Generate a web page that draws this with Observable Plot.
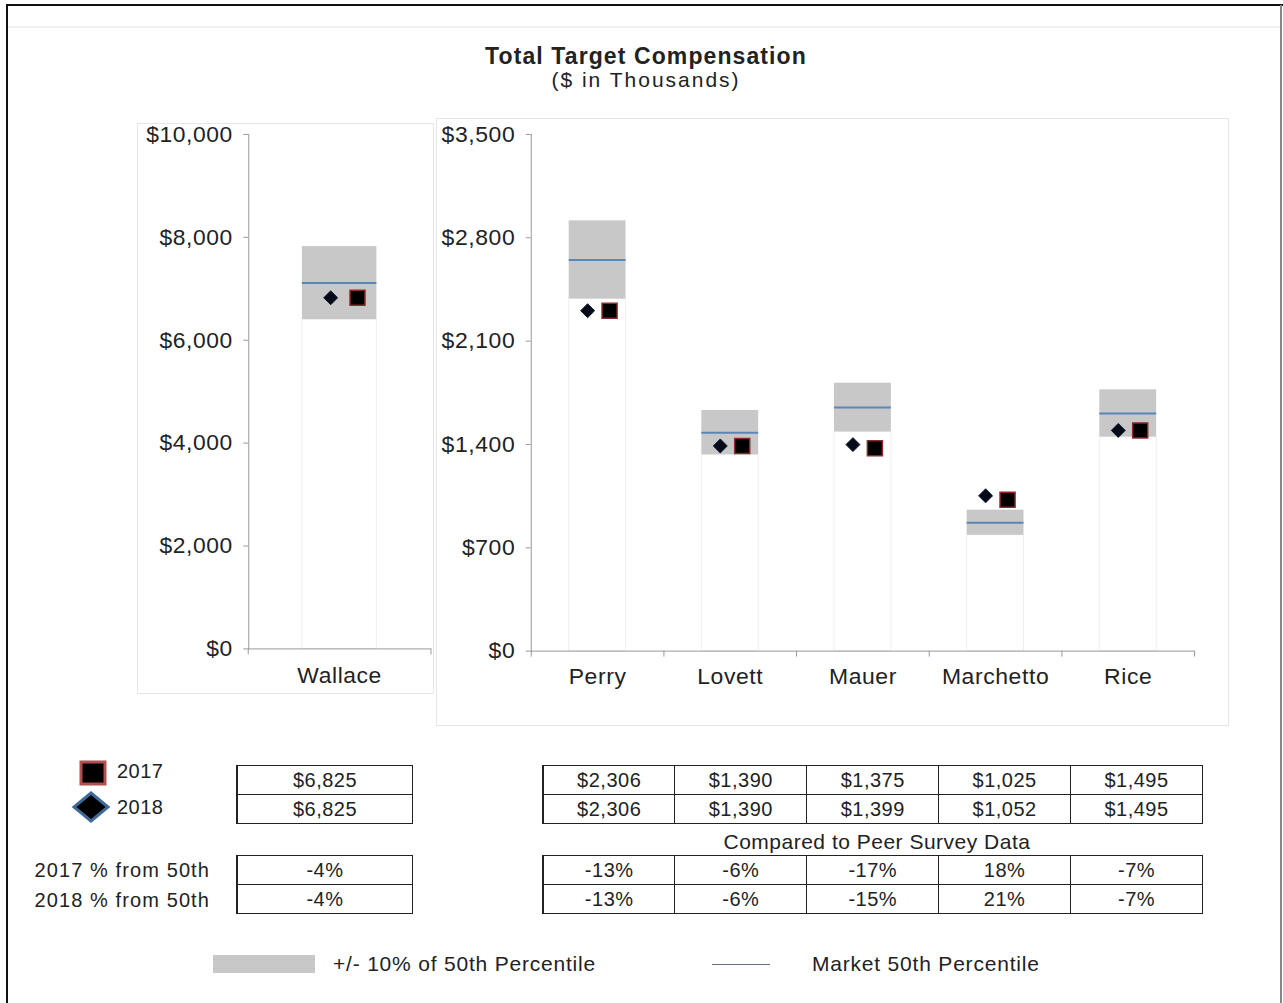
<!DOCTYPE html>
<html>
<head>
<meta charset="utf-8">
<script src="https://cdn.jsdelivr.net/npm/d3@7"></script>
<script src="https://cdn.jsdelivr.net/npm/@observablehq/plot@0.6"></script>
<style>
  html, body { margin: 0; padding: 0; background: #fff; }
  #root { position: relative; width: 1283px; height: 1003px; background: #fff; overflow: hidden;
          font-family: "Liberation Sans", Arial, sans-serif; color: #222; }
  .abs { position: absolute; white-space: nowrap; }
  .panel { position: absolute; border: 1px solid #e6e6e6; box-sizing: border-box; }
  table.vals { position: absolute; border-collapse: collapse; table-layout: fixed; font-size: 20px; letter-spacing: 0.5px; }
  table.vals td { border: 1px solid #222; text-align: center; height: 28px; padding: 0; line-height: 28px; }
  table.vals tr td:first-child { border-left: 2px solid #222; }
  .rowlab { position: absolute; font-size: 20px; letter-spacing: 1.1px; text-align: right; width: 200px; white-space: nowrap; }
</style>
</head>
<body>
<div id="root"></div>
<script>
// ---------- data ----------
const names      = ["Wallace", "Perry", "Lovett", "Mauer", "Marchetto", "Rice"];
const leftNames  = ["Wallace"];
const rightNames = ["Perry", "Lovett", "Mauer", "Marchetto", "Rice"];
const comp2017   = [6825, 2306, 1390, 1375, 1025, 1495];
const comp2018   = [6825, 2306, 1390, 1399, 1052, 1495];
const market50th = [7110, 2650, 1480, 1650, 870, 1610];
const bandLow    = [6400, 2385, 1330, 1485, 785, 1450];
const bandHigh   = [7820, 2915, 1630, 1815, 955, 1770];
const pct2017    = ["-4%", "-13%", "-6%", "-17%", "18%", "-7%"];
const pct2018    = ["-4%", "-13%", "-6%", "-15%", "21%", "-7%"];
const leftTicks  = [0, 2000, 4000, 6000, 8000, 10000];
const rightTicks = [0, 700, 1400, 2100, 2800, 3500];

const rows = names.map((n, i) => ({
  name: n, low: bandLow[i], high: bandHigh[i], mid: market50th[i],
  y17: comp2017[i], y18: comp2018[i], p17: pct2017[i], p18: pct2018[i]
}));
const fmt = d => "$" + d3.format(",")(d);

const root = document.getElementById("root");
function add(html) { root.insertAdjacentHTML("beforeend", html); }

// outer frame lines
add(`<div class="abs" style="left:7px;top:4px;width:1276px;height:2px;background:#111"></div>`);
add(`<div class="abs" style="left:6px;top:4px;width:2px;height:999px;background:#111"></div>`);
add(`<div class="abs" style="left:1280px;top:5px;width:2px;height:998px;background:#888"></div>`);
add(`<div class="abs" style="left:8px;top:26px;width:1272px;height:2px;background:#f0f0f0"></div>`);

// title
add(`<div class="abs" style="left:346px;top:44px;width:600px;text-align:center;font-weight:bold;font-size:23px;letter-spacing:1.1px;line-height:24px">Total Target Compensation</div>`);
add(`<div class="abs" style="left:346px;top:68px;width:600px;text-align:center;font-size:21px;letter-spacing:2px;line-height:24px">($ in Thousands)</div>`);

// panels
function panel({cats, ticks, domain, left, top, width, height, mL, mT, mR, mB, pIn, dxD, dxS, xPad}) {
  const data = rows.filter(r => cats.includes(r.name));
  const step = (width - mL - mR) / cats.length;
  const half = step / 2;
  const svg = Plot.plot({
    width, height,
    marginLeft: mL, marginTop: mT, marginRight: mR, marginBottom: mB,
    x: {domain: cats, paddingInner: pIn, paddingOuter: pIn / 2, label: null},
    y: {domain, label: null},
    style: {fontFamily: "'Liberation Sans', Arial, sans-serif", fontSize: "23px", letterSpacing: "0.6px", color: "#222", background: "transparent", overflow: "visible"},
    marks: [
      Plot.barY(data, {x: "name", y1: 0, y2: "low", fill: "#fff", stroke: "#efefef", strokeWidth: 1}),
      Plot.barY(data, {x: "name", y1: "low", y2: "high", fill: "#c8c8c8"}),
      Plot.tickY(data, {x: "name", y: "mid", stroke: "#5b86b8", strokeWidth: 2}),
      Plot.ruleY([0], {stroke: "#999"}),
      Plot.frame({anchor: "left", stroke: "#999"}),
      Plot.ruleX(data, {x: "name", dx: -half, y1: 0, y2: 0, insetBottom: -6, stroke: "#999"}),
      Plot.ruleX(data.slice(-1), {x: "name", dx: half, y1: 0, y2: 0, insetBottom: -6, stroke: "#999"}),
      Plot.dot(data, {x: "name", y: "y18", symbol: "diamond2", r: 6.3, fill: "#050a18", stroke: "#0b1630", strokeWidth: 1, dx: dxD}),
      Plot.dot(data, {x: "name", y: "y17", symbol: "square", r: 8.5, fill: "#000", stroke: "#8a2a2a", strokeWidth: 1.5, dx: dxS}),
      Plot.axisY({ticks, tickFormat: fmt, tickSize: 5, tickPadding: 11, stroke: "#999", fill: "#222", label: null}),
      Plot.axisX({tickSize: 0, tickPadding: xPad, fill: "#222", label: null})
    ]
  });
  const wrap = document.createElement("div");
  wrap.className = "panel";
  wrap.style.left = left + "px"; wrap.style.top = top + "px";
  wrap.style.width = width + "px"; wrap.style.height = height + "px";
  svg.style.position = "absolute"; svg.style.left = "-1px"; svg.style.top = "-1px";
  wrap.appendChild(svg);
  root.appendChild(wrap);
}

panel({cats: leftNames, ticks: leftTicks, domain: [0, 10000], left: 137, top: 123, width: 297, height: 571,
       mL: 112, mT: 11, mR: 1, mB: 42, pIn: 0.59, dxD: -9, dxS: 18, xPad: 18});
panel({cats: rightNames, ticks: rightTicks, domain: [0, 3500], left: 436, top: 118, width: 793, height: 608,
       mL: 95, mT: 16, mR: 33, mB: 74, pIn: 0.57, dxD: -10, dxS: 12, xPad: 17});

// tables
function table(left, top, width, r1, r2) {
  const tr = arr => `<tr>${arr.map(v => `<td>${v}</td>`).join("")}</tr>`;
  add(`<table class="vals" style="left:${left}px;top:${top}px;width:${width}px">${tr(r1)}${tr(r2)}</table>`);
}
const L = rows.filter(r => leftNames.includes(r.name));
const R = rows.filter(r => rightNames.includes(r.name));
table(236, 765, 177, L.map(r => fmt(r.y17)), L.map(r => fmt(r.y18)));
table(542, 765, 661, R.map(r => fmt(r.y17)), R.map(r => fmt(r.y18)));
table(236, 855, 177, L.map(r => r.p17), L.map(r => r.p18));
table(542, 855, 661, R.map(r => r.p17), R.map(r => r.p18));

add(`<div class="abs" style="left:572px;top:830px;width:610px;text-align:center;font-size:21px;letter-spacing:0.5px;line-height:24px">Compared to Peer Survey Data</div>`);
add(`<div class="rowlab" style="left:10px;top:859px;line-height:22px">2017 % from 50th</div>`);
add(`<div class="rowlab" style="left:10px;top:889px;line-height:22px">2018 % from 50th</div>`);

// year legend
add(`<svg class="abs" style="left:76px;top:758px" width="34" height="30"><rect x="5" y="4" width="24" height="22" fill="#000" stroke="#b05050" stroke-width="3"/></svg>`);
add(`<div class="abs" style="left:117px;top:760px;font-size:20px;letter-spacing:0.5px;line-height:22px">2017</div>`);
add(`<svg class="abs" style="left:70px;top:790px" width="42" height="34"><polygon points="21,3 38,17 21,31 4,17" fill="#000" stroke="#3d6a99" stroke-width="3"/></svg>`);
add(`<div class="abs" style="left:117px;top:796px;font-size:20px;letter-spacing:0.5px;line-height:22px">2018</div>`);

// bottom legend
add(`<div class="abs" style="left:213px;top:955px;width:102px;height:18px;background:#c8c8c8"></div>`);
add(`<div class="abs" style="left:333px;top:952px;font-size:21px;letter-spacing:0.8px;line-height:24px">+/- 10% of 50th Percentile</div>`);
add(`<div class="abs" style="left:712px;top:964px;width:58px;height:1px;background:#5b6f86"></div>`);
add(`<div class="abs" style="left:812px;top:952px;font-size:21px;letter-spacing:0.8px;line-height:24px">Market 50th Percentile</div>`);
</script>
</body>
</html>
